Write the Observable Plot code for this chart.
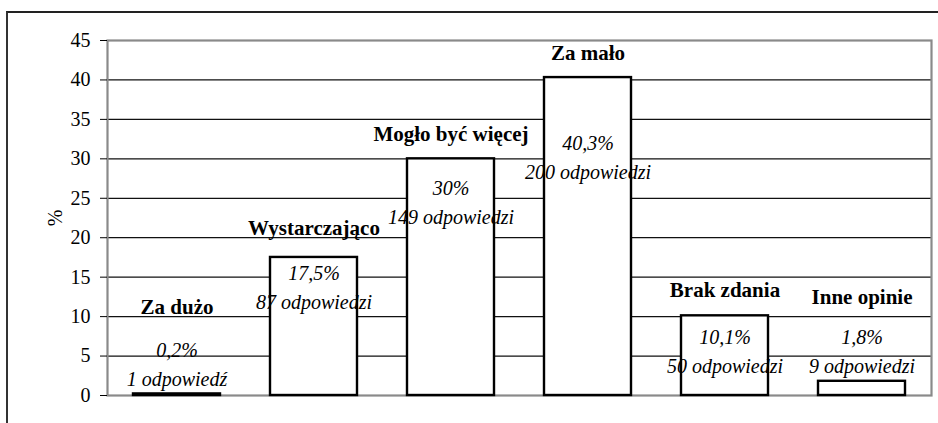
<!DOCTYPE html>
<html>
<head>
<meta charset="utf-8">
<script src="https://cdn.jsdelivr.net/npm/d3@7"></script>
<script src="https://cdn.jsdelivr.net/npm/@observablehq/plot@0.6"></script>
<style>
  html, body { margin: 0; padding: 0; background: #fff; }
  #wrap { position: relative; width: 938px; height: 423px; overflow: hidden; }
  #outer { position: absolute; left: 6px; top: 11px; width: 940px; height: 420px;
           border-top: 2px solid #222; border-left: 2px solid #333; box-sizing: border-box; pointer-events: none; }
  #chart { position: absolute; left: 0; top: 0; }
</style>
</head>
<body>
<div id="wrap"><div id="chart"></div><div id="outer"></div></div>
<script>
// Data
const categories = ["Za dużo", "Wystarczająco", "Mogło być więcej", "Za mało", "Brak zdania", "Inne opinie"];
const percents = [0.2, 17.5, 30, 40.3, 10.1, 1.8];
const counts = [1, 87, 149, 200, 50, 9];
const yTicks = [0, 5, 10, 15, 20, 25, 30, 35, 40, 45];

// Label anchor heights (in % units) as placed in the original
const nameLabelAt = [11.15, 21.2, 33.1, 43.35, 13.3, 12.4];
const valueLabelAt = [5.7, 15.5, 26.2, 31.9, 7.35, 7.35];

const rows = categories.map((c, i) => ({
  cat: c,
  pct: percents[i],
  pctText: String(percents[i]).replace(".", ",") + "%",
  countText: counts[i] + (counts[i] === 1 ? " odpowiedź" : " odpowiedzi"),
  nameY: nameLabelAt[i],
  valY: valueLabelAt[i]
}));

const serif = "Liberation Serif";

const chart = Plot.plot({
  width: 938,
  height: 423,
  marginLeft: 107,
  marginRight: 7,
  marginTop: 40,
  marginBottom: 28,
  style: "font-family: 'Liberation Serif'; font-size: 20px; color: #000; background: transparent;",
  x: { domain: categories, paddingInner: 0.365, paddingOuter: 0.1825, axis: null },
  y: { domain: [0, 45] },
  marks: [
    Plot.ruleY(yTicks.filter(t => t > 0 && t < 45), { stroke: "#111", strokeWidth: 1.2 }),
    Plot.frame({ stroke: "#8a8a8a", strokeWidth: 2.2 }),
    Plot.axisY({
      ticks: yTicks, tickSize: 7, tickPadding: 10, fontSize: 20, stroke: "#000", fontFamily: serif,
      label: "%", labelAnchor: "center", labelOffset: 60, labelArrow: "none"
    }),
    Plot.barY(rows, { x: "cat", y: "pct", fill: "#fff", stroke: "#000", strokeWidth: 2.4 }),
    Plot.text(rows, { x: "cat", y: "nameY", text: "cat", fontWeight: "bold", fontSize: 21, fill: "#000", fontFamily: serif }),
    Plot.text(rows, { x: "cat", y: "valY", text: "pctText", fontStyle: "italic", fontSize: 20, fill: "#000", fontFamily: serif }),
    Plot.text(rows, { x: "cat", y: "valY", dy: 29, text: "countText", fontStyle: "italic", fontSize: 20, fill: "#000", fontFamily: serif })
  ]
});
document.getElementById("chart").appendChild(chart);
</script>
</body>
</html>
